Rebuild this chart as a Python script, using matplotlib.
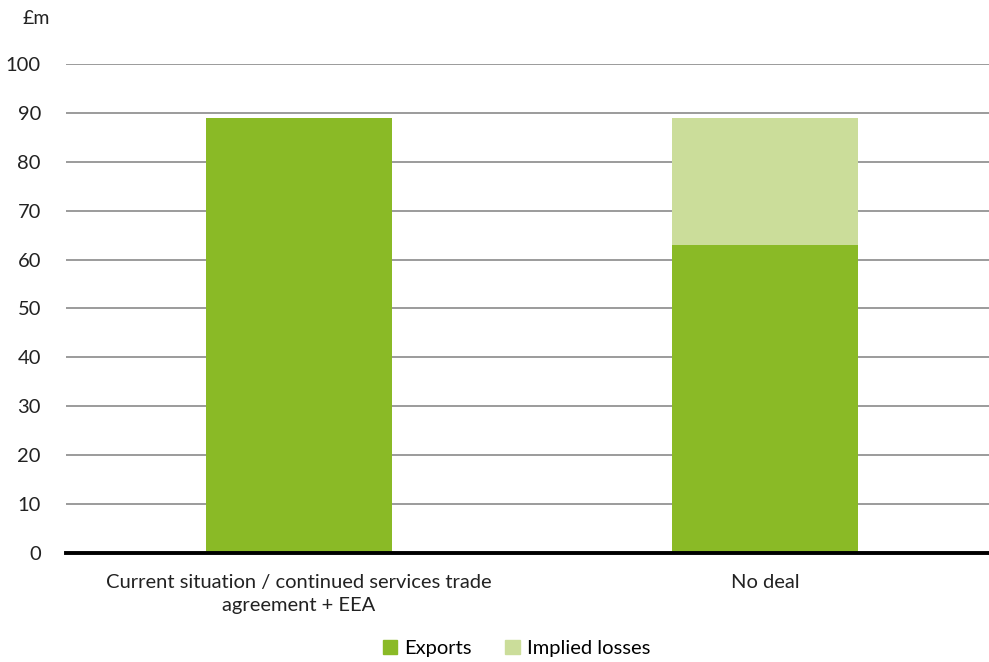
import numpy as np
import matplotlib.pyplot as plt
from matplotlib.patches import Patch

plt.rcParams['font.family'] = ['Lato', 'DejaVu Sans']

categories = ['Current situation / continued services trade\nagreement + EEA', 'No deal']
exports = [89, 63]
implied_losses = [0, 26]

green = '#8aba26'
light_green = '#cbdd9a'
text_col = '#222222'

fig = plt.figure(figsize=(9.89, 6.62), dpi=100)
ax = fig.add_axes([0.0667, 0.1647, 0.933, 0.7386])

x = np.arange(len(categories))
ax.bar(x, exports, width=0.4, color=green, zorder=3)
ax.bar(x, implied_losses, width=0.4, bottom=exports, color=light_green, zorder=3)

ax.set_xlim(-0.5, 1.48)
ax.set_ylim(0, 100)
ax.set_yticks(range(0, 101, 10))
ax.yaxis.grid(True, color='#808080', linewidth=1.1, zorder=1)
ax.axhline(0, color='black', linewidth=2.8, zorder=4, clip_on=False)

ax.set_xticks(x)
ax.set_xticklabels(categories, fontsize=14.5, color=text_col, linespacing=1.45)
ax.tick_params(axis='y', labelsize=14.5, colors=text_col, length=0, pad=18)
ax.tick_params(axis='x', length=0, pad=15)
for s in ax.spines.values():
    s.set_visible(False)

fig.text(0.037, 0.972, '£m', fontsize=14, color=text_col, ha='center', va='center')

handles = [Patch(color=green, label='Exports'), Patch(color=light_green, label='Implied losses')]
fig.legend(handles=handles, loc='center', bbox_to_anchor=(0.522, 0.02), ncol=2,
           frameon=False, fontsize=14.5, handlelength=0.7, handleheight=0.7,
           handletextpad=0.35, columnspacing=1.7)

fig.savefig('out.png', dpi=100)
